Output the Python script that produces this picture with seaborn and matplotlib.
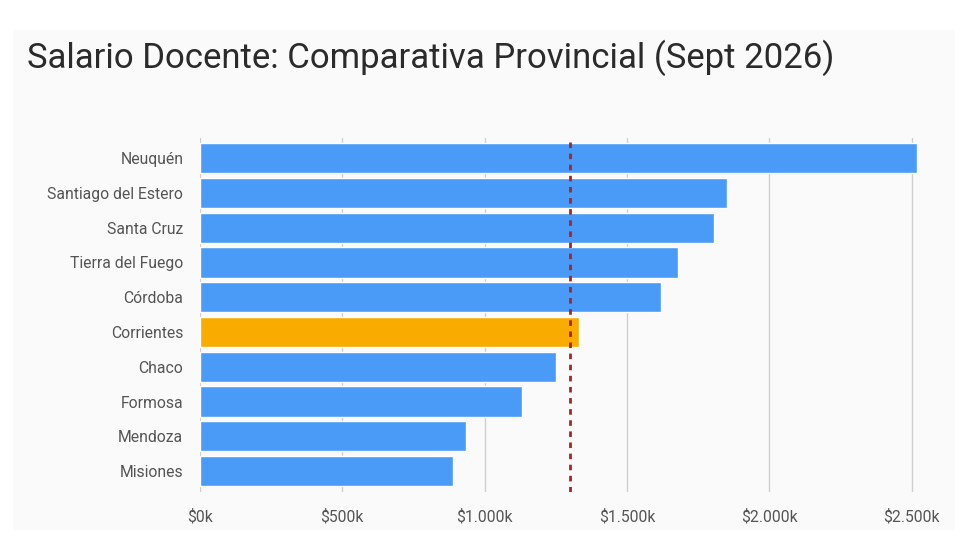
import matplotlib
matplotlib.use("Agg")
import matplotlib.pyplot as plt
import pandas as pd
import seaborn as sns
from matplotlib.patches import Rectangle
from matplotlib.ticker import FuncFormatter

sns.set_theme(style="whitegrid")
plt.rcParams['font.family'] = ['Roboto', 'DejaVu Sans']

provincias = ["Neuquén", "Santiago del Estero", "Santa Cruz", "Tierra del Fuego",
              "Córdoba", "Corrientes", "Chaco", "Formosa", "Mendoza", "Misiones"]
salario_k = [2520, 1850, 1805, 1680, 1620, 1330, 1250, 1130, 935, 890]
destacada = "Corrientes"
referencia_k = 1300
x_ticks = [0, 500, 1000, 1500, 2000, 2500]

df = pd.DataFrame({"provincia": provincias, "salario": salario_k})
palette = {p: ("#f9ab00" if p == destacada else "#4a9bf8") for p in provincias}

fig = plt.figure(figsize=(9.6, 5.43), dpi=100)
fig.patch.set_facecolor("white")
# light grey card behind the chart
fig.patches.append(Rectangle((13 / 960, 13 / 543), 942 / 960, 500 / 543,
                             transform=fig.transFigure, facecolor="#fafafa",
                             edgecolor="none", zorder=-10))
ax = fig.add_axes([200 / 960, 1 - 492 / 543, 740 / 960, (492 - 138) / 543])
ax.set_facecolor("#fafafa")

sns.barplot(data=df, x="salario", y="provincia", hue="provincia", palette=palette,
            order=provincias, legend=False, width=0.87, saturation=1, ax=ax)

ax.axvline(referencia_k, color="#a3262a", linestyle=(0, (2, 2)), linewidth=2, zorder=5)

ax.set_xlim(0, 2600)
ax.set_ylim(9.6, -0.58)
ax.set_xticks(x_ticks)
ax.xaxis.set_major_formatter(FuncFormatter(lambda v, _: "$" + f"{int(v):,}".replace(",", ".") + "k"))
ax.grid(axis="x", color="#cfcfcf", linewidth=1)
ax.grid(axis="y", visible=False)
for s in ax.spines.values():
    s.set_visible(False)
ax.tick_params(axis="both", length=0, labelsize=11.3, labelcolor="#555555")
ax.tick_params(axis="y", pad=12)
ax.tick_params(axis="x", pad=12)
ax.set_xlabel(None)
ax.set_ylabel(None)

fig.text(27 / 960, 1 - 58 / 543, "Salario Docente: Comparativa Provincial (Sept 2026)",
         fontsize=25, color="#2b2b2b", va="center", ha="left")

# mask the white strip above the card
fig.patches.append(Rectangle((0, 1 - 30 / 543), 1, 30 / 543, transform=fig.transFigure,
                             facecolor="white", edgecolor="none", zorder=-5))

fig.savefig("out.png", dpi=100, facecolor=fig.get_facecolor())
